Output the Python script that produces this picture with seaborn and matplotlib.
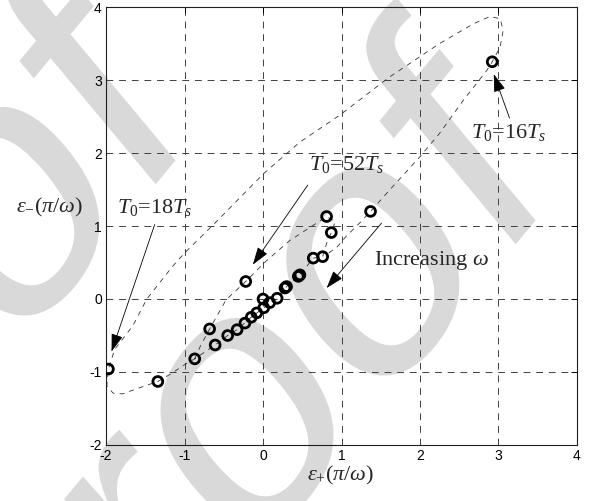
import pandas as pd
import matplotlib
matplotlib.use('Agg')
import matplotlib.pyplot as plt
import seaborn as sns
from matplotlib.textpath import TextPath
from matplotlib.patches import PathPatch
from matplotlib.font_manager import FontProperties
from matplotlib.transforms import Affine2D

# measured points, eps+ and eps- in units of pi/omega
eps_plus = [-1.97, -1.34, -0.87, -0.68, -0.61, -0.45, -0.33, -0.23, -0.15, -0.08,
            -0.22, 0.00, 0.01, 0.085, 0.18, 0.28, 0.30, 0.45, 0.47, 0.64, 0.76,
            0.87, 0.81, 1.37, 2.92]
eps_minus = [-0.96, -1.13, -0.82, -0.41, -0.63, -0.50, -0.42, -0.33, -0.25, -0.19,
             0.24, 0.00, -0.12, -0.05, 0.01, 0.15, 0.17, 0.31, 0.33, 0.56, 0.58,
             0.91, 1.13, 1.20, 3.25]

# dashed trajectory
curve_plus = [-0.87, -0.80, -0.68, -0.47, -0.22, 0.04, 0.34, 0.64, 0.81, 0.92,
              0.87, 0.81, 0.76, 0.64, 0.47, 0.30, 0.18, 0.01, -0.15, -0.33,
              -0.45, -0.61, -0.87, -1.00, -1.15, -1.34, -1.53, -1.79, -1.91, -1.99,
              -1.97, -1.89, -1.66, -1.48, -1.15, -1.00, -0.64, 0.01, 0.47, 0.98,
              1.61, 2.25, 2.68, 2.89, 3.02, 3.06, 3.02, 2.92, 2.85, 2.55,
              2.25, 2.00, 1.61, 1.37, 1.23, 1.06, 0.95, 0.80]
curve_minus = [-0.82, -0.65, -0.41, -0.01, 0.24, 0.52, 0.80, 1.01, 1.13, 1.06,
               0.91, 0.76, 0.58, 0.56, 0.33, 0.17, 0.01, -0.12, -0.25, -0.42,
               -0.50, -0.63, -0.82, -0.90, -1.01, -1.13, -1.20, -1.30, -1.29, -1.19,
               -0.96, -0.69, -0.37, 0.00, 0.45, 0.63, 1.01, 1.72, 2.15, 2.52,
               3.04, 3.50, 3.77, 3.87, 3.84, 3.68, 3.45, 3.25, 3.13, 2.72,
               2.27, 1.95, 1.49, 1.20, 1.04, 0.86, 0.72, 0.60]

xticks = [-2, -1, 0, 1, 2, 3, 4]
yticks = [-2, -1, 0, 1, 2, 3, 4]

sns.set_style('white')
plt.rcParams['font.family'] = ['Liberation Sans', 'DejaVu Sans']
plt.rcParams['axes.unicode_minus'] = False
plt.rcParams['mathtext.fontset'] = 'custom'
plt.rcParams['mathtext.rm'] = 'Liberation Serif'
plt.rcParams['mathtext.it'] = 'Liberation Serif:italic'
plt.rcParams['mathtext.bf'] = 'Liberation Serif:bold'

fig = plt.figure(figsize=(5.91, 5.01), dpi=100)
fig.patch.set_facecolor('white')
ax = fig.add_axes([0.1794, 0.1118, 0.7969, 0.8742])
ax.set_facecolor('none')

# light grey "Proof" watermark behind the plot (two rows), 45 deg and
# stretched vertically like the scanned page
fp = FontProperties(family='Liberation Sans')
wm = TextPath((0, 0), 'Proof', size=1, prop=fp)
o_ext = TextPath((0, 0), 'o', size=1, prop=fp).get_extents()
proo_ext = TextPath((0, 0), 'Proo', size=1, prop=fp).get_extents()
ocx = proo_ext.x1 - o_ext.x1 + (o_ext.x0 + o_ext.x1) / 2
ocy = (o_ext.y0 + o_ext.y1) / 2
for cx, cy in [(3.73, 2.29), (0.13, 2.89)]:
    wm_tr = (Affine2D().translate(-ocx, -ocy).scale(3.2).rotate_deg(45)
             .scale(1, 1.2).translate(cx, cy) + fig.dpi_scale_trans)
    fig.add_artist(PathPatch(wm, transform=wm_tr, facecolor='#d9d9d9',
                             edgecolor='none', zorder=-1))

curve = pd.DataFrame({'ep': curve_plus, 'em': curve_minus})
pts = pd.DataFrame({'ep': eps_plus, 'em': eps_minus})

sns.lineplot(data=curve, x='ep', y='em', sort=False, estimator=None, ax=ax,
             color='#333333', lw=0.6, linestyle=(0, (6, 6)), zorder=2)
sns.scatterplot(data=pts, x='ep', y='em', ax=ax, marker='o', s=50,
                facecolors='none', edgecolor='black', linewidth=2.0, zorder=3)

ax.set_xlim(-2, 4)
ax.set_ylim(-2, 4)
ax.set_xticks(xticks)
ax.set_yticks(yticks)
ax.set_xlabel('')
ax.set_ylabel('')
ax.grid(True, color='#404040', linestyle=(0, (7, 6)), linewidth=0.7)
ax.set_axisbelow(True)
ax.tick_params(direction='in', length=4, width=0.7, top=True, right=True,
               labelsize=10, pad=3, colors='black')
for sp in ax.spines.values():
    sp.set_linewidth(0.8)
    sp.set_color('#202020')

serif = ['Liberation Serif', 'DejaVu Serif']
ax.text(-0.12, 0.53, r'$\varepsilon_{-}(\pi/\omega)$', transform=ax.transAxes,
        ha='center', va='baseline', fontsize=16, family=serif)
ax.text(0.497, -0.080, r'$\varepsilon_{+}(\pi/\omega)$', transform=ax.transAxes,
        ha='center', va='baseline', fontsize=16, family=serif)

notes = [
    (r'$T_{\mathit{0}}$=18$T_{s}$', (-1.86, 1.18), (-1.38, 1.02), (-1.93, -0.72)),
    (r'$T_{\mathit{0}}$=52$T_{s}$', (0.59, 1.77), (0.57, 1.56), (-0.13, 0.47)),
    (r'$T_{\mathit{0}}$=16$T_{s}$', (2.65, 2.20), (3.14, 2.48), (2.94, 3.08)),
    (r'Increasing $\omega$', (1.42, 0.47), (1.51, 1.04), (0.81, 0.15)),
]
for label, txy, tail, tip in notes:
    ax.text(txy[0], txy[1], label, ha='left', va='baseline', fontsize=16,
            family=serif, zorder=4)
    ax.annotate('', xy=tip, xytext=tail,
                arrowprops=dict(arrowstyle='-|>,head_length=0.55,head_width=0.18',
                                mutation_scale=20, lw=0.6, color='black',
                                shrinkA=0, shrinkB=0), zorder=4)

fig.savefig('out.png', dpi=100)
